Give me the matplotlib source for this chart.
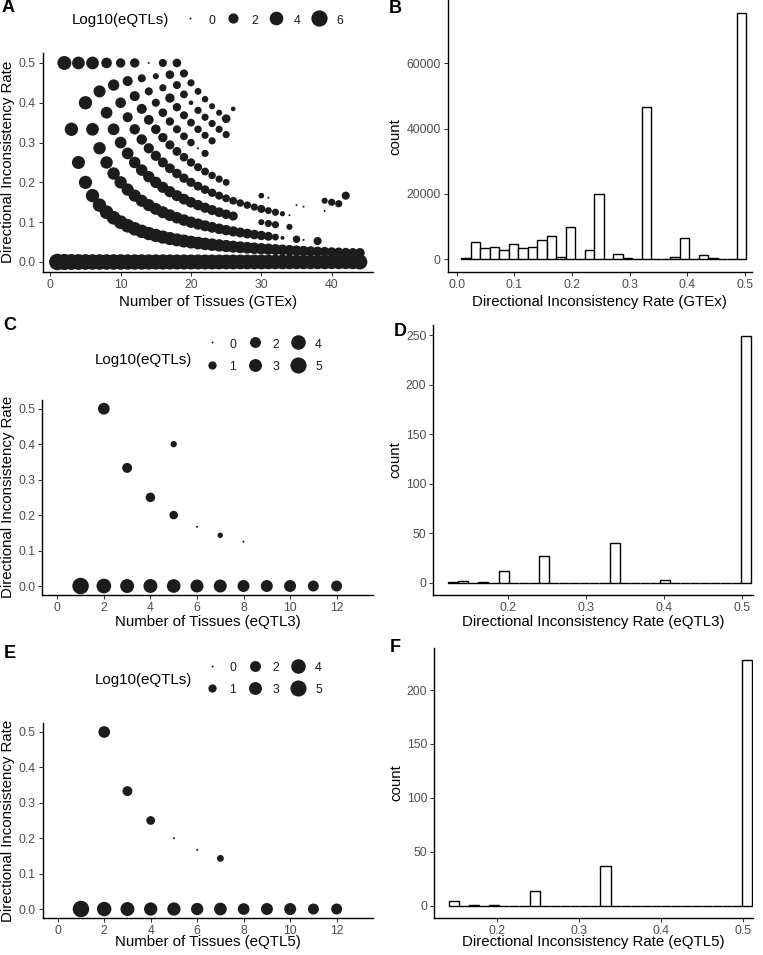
import numpy as np
import matplotlib
matplotlib.use("Agg")
import matplotlib.pyplot as plt
from matplotlib.lines import Line2D

plt.rcParams['font.family'] = ['Liberation Sans', 'DejaVu Sans']

W, H, DPI = 763, 955, 100
DOT = '#1c1c1c'

# ---------------- data ----------------
# Panel A (GTEx): log10(number of eQTLs) for n tissues with k inconsistent tissues
# row k lists values for n = 2k, 2k+1, ... (row 0 starts at n = 1); None = no point
gtex_k0 = [6.2, 5.9, 5.7, 5.6, 5.5, 5.4, 5.4, 5.4, 5.4, 5.4, 5.3, 5.3, 5.3, 5.2, 5.2,
           5.2, 5.1, 5.1, 5.1, 5.0, 5.0, 5.0, 4.9, 4.9, 4.9, 4.9, 4.8, 4.8, 4.8, 4.8,
           4.7, 4.7, 4.7, 4.7, 4.6, 4.6, 4.6, 4.6, 4.6, 4.5, 4.5, 4.5, 4.6, 5.0]
gtex_k1 = [4.2, 3.8, 3.6, 3.7, 3.8, 3.9, 4.0, 4.0, 4.0, 4.0, 3.9, 3.9, 3.8, 3.8, 3.7,
           3.7, 3.6, 3.6, 3.5, 3.4, 3.3, 3.3, 3.2, 3.1, 3.0, 2.9, 2.8, 2.7, 2.6, 2.5,
           2.4, 2.3, 2.2, 2.1, 2.0, 1.9, 1.8, 1.8, 1.7, 1.7, 1.6, 1.6, 1.8]
gtex_k2 = [3.4, 3.8, 3.4, 3.2, 3.2, 3.2, 3.2, 3.1, 3.1, 3.0, 3.0, 2.9, 2.9, 2.8, 2.7,
           2.7, 2.6, 2.5, 2.4, 2.3, 2.2, 2.1, 2.0, 1.9, 1.8, 1.7, 1.6, 1.4, 0.7, 0.1,
           None, 0.9, 0.0, None, 1.1]
gtex_k3 = [3.4, 3.0, 2.8, 2.8, 2.8, 2.8, 2.7, 2.7, 2.6, 2.6, 2.5, 2.5, 2.4, 2.3, 2.2,
           2.1, 2.0, 1.9, 1.8, 1.7, 1.5, None, None, None, 0.5, 0.8, 0.8, None, 0.5]
gtex_k4 = [2.2, 2.6, 2.2, 1.9, 2.1, 2.1, 2.0, 2.0, 1.9, 1.8, 1.7, 1.6, 1.5, 1.4, 1.3,
           1.2, 1.1, 1.0, 1.0, 0.9, 0.9, 0.8, 1.1, 0.7, 0.8, 0.3, 0.0]
gtex_k5 = [1.6, 1.9, 1.9, 1.9, 1.8, 1.7, 1.6, 1.5, 1.4, 1.3, 1.2, 1.1, 1.0, 0.9, 0.8,
           0.7, None, None, None, None, 0.4, 0.0, None, None, None, 0.0, 0.0, None,
           None, 0.0]
gtex_k6 = [1.6, 1.1, 1.1, 1.1, 1.3, 1.2, 1.1, 1.0, 0.9, 0.0, 0.8] + [None] * 16 + [0.5, 0.8, 0.8]
gtex_k7 = [0.0, 0.5, 0.8, 1.6, 1.2, 1.1, 1.0, 0.9, 0.8, 0.8] + [None] * 18 + [1.1]
gtex_k8 = [1.1, 1.3, 1.1, 1.0, 0.2, 0.8, 0.8, 0.8, 0.8, 0.8]
gtex_k9 = [1.3, 1.1, 0.8, 0.7, 0.6, 0.5, 0.5, 1.3]
gtex_k10 = [None, None, None, None, None, None, 0.2]
gtex_rows = [gtex_k0, gtex_k1, gtex_k2, gtex_k3, gtex_k4, gtex_k5,
             gtex_k6, gtex_k7, gtex_k8, gtex_k9, gtex_k10]

# Panel B: histogram counts (30 bins) of the GTEx inconsistency rate
gtex_rate_range = (1 / 44, 0.5)
gtex_counts = [300, 5200, 3400, 3800, 3000, 4600, 3400, 3900, 6000, 7250,
               700, 9800, 150, 3000, 20000, 200, 1650, 500, 100, 46500,
               50, 200, 800, 6650, 200, 1250, 400, 100, 30, 75500]

# Panel C (eQTL3)
e3_tissues = [1, 2, 3, 4, 5, 6, 7, 8, 9, 10, 11, 12, 2, 3, 4, 5, 5, 6, 7, 8]
e3_rate = [0, 0, 0, 0, 0, 0, 0, 0, 0, 0, 0, 0,
           0.5, 0.333, 0.25, 0.2, 0.4, 0.167, 0.143, 0.125]
e3_log10 = [5.3, 4.07, 3.6, 3.6, 3.45, 3.05, 3.05, 2.52, 2.52, 2.52, 2.04, 2.04,
            2.40, 1.60, 1.43, 1.08, 0.48, 0.0, 0.30, 0.0]

# Panel D: histogram counts (30 bins) of eQTL3 rate
e3_rate_range = (1 / 8, 0.5)
e3_counts = [1, 2, 0, 1, 0, 12, 0, 0, 0, 27, 0, 0, 0, 0, 0, 0, 40, 0, 0, 0,
             0, 3, 0, 0, 0, 0, 0, 0, 0, 249]

# Panel E (eQTL5)
e5_tissues = [1, 2, 3, 4, 5, 6, 7, 8, 9, 10, 11, 12, 2, 3, 4, 5, 6, 7]
e5_rate = [0, 0, 0, 0, 0, 0, 0, 0, 0, 0, 0, 0,
           0.5, 0.333, 0.25, 0.2, 0.167, 0.143]
e5_log10 = [5.3, 3.9, 3.6, 3.22, 3.22, 2.68, 2.89, 2.37, 2.52, 2.52, 2.04, 2.04,
            2.36, 1.57, 1.15, 0.0, 0.0, 0.6]

# Panel F: histogram counts (30 bins) of eQTL5 rate
e5_rate_range = (1 / 7, 0.5)
e5_counts = [4, 0, 1, 0, 1, 0, 0, 0, 14, 0, 0, 0, 0, 0, 0, 37, 0, 0, 0, 0,
             0, 0, 0, 0, 0, 0, 0, 0, 0, 228]

legend_a = [0, 2, 4, 6]
legend_ce = [0, 1, 2, 3, 4, 5]


# ---------------- helpers ----------------
def diam_pt(v, vmax):
    # ggplot-like area scale: diameter grows with sqrt of value
    d_px = 2.0 + 14.5 * np.sqrt(np.asarray(v, float) / vmax)
    return d_px * 72 / DPI


def add_axes_px(left, top, right, bottom):
    return fig.add_axes([left / W, 1 - bottom / H, (right - left) / W, (bottom - top) / H])


def style(ax, xlabel, ylabel, xlab_y, ylab_x, top, bottom, left):
    for s in ['top', 'right']:
        ax.spines[s].set_visible(False)
    for s in ['left', 'bottom']:
        ax.spines[s].set_linewidth(1.0)
    ax.tick_params(direction='out', length=2.75, width=0.75, color='#333333',
                   labelcolor='#4D4D4D', labelsize=8.8, pad=2.2)
    ax.set_xlabel(xlabel, fontsize=10.8, va='center')
    ax.set_ylabel(ylabel, fontsize=10.8, va='center')
    hgt = bottom - top
    ax.xaxis.set_label_coords(0.5, -(xlab_y - bottom) / hgt)
    wid = ax.get_position().width * W
    ax.yaxis.set_label_coords((ylab_x - left) / wid, 0.5)


def hist_bars(ax, counts, rate_range):
    lo, hi = rate_range
    width = (hi - lo) / 29
    origin = width / 2 + np.floor((lo - width / 2) / width) * width
    centers = origin + width / 2 + width * np.arange(len(counts))
    ax.bar(centers, counts, width=width, color='white', edgecolor='black',
           linewidth=1.0, zorder=2)


def size_legend(ax, breaks, vmax, ncol, center):
    handles = [Line2D([], [], marker='o', ls='', color=DOT, markeredgewidth=0,
                      markersize=diam_pt(b, vmax)) for b in breaks]
    ax.legend(handles, [str(b) for b in breaks], ncol=ncol, loc='center',
              bbox_to_anchor=(center[0] / W, 1 - center[1] / H),
              bbox_transform=fig.transFigure, frameon=False, fontsize=8.8,
              handlelength=1.6, handleheight=1.2, handletextpad=0.65,
              columnspacing=0.7, labelspacing=0.72, borderpad=0,
              labelcolor='#1a1a1a')


fig = plt.figure(figsize=(W / DPI, H / DPI), dpi=DPI)

# ---------------- panel A ----------------
axA = add_axes_px(42.7, 53, 372.7, 271.7)
a_n, a_rate, a_val = [], [], []
for k, row in enumerate(gtex_rows):
    n0 = 1 if k == 0 else 2 * k
    for i, v in enumerate(row):
        if v is None:
            continue
        n = n0 + i
        a_n.append(n)
        a_rate.append(k / n)
        a_val.append(v)
a_val = np.array(a_val)
vmax_a = a_val.max()
order = np.argsort(a_n, kind='stable')
axA.scatter(np.array(a_n)[order], np.array(a_rate)[order],
            s=diam_pt(a_val[order], vmax_a) ** 2, color=DOT, linewidths=0, zorder=3)
axA.set_xlim(-1.08, 45.83)
axA.set_ylim(-0.0244, 0.525)
axA.set_xticks([0, 10, 20, 30, 40])
axA.set_yticks([0, 0.1, 0.2, 0.3, 0.4, 0.5])
axA.set_yticklabels(['0.0', '0.1', '0.2', '0.3', '0.4', '0.5'])
style(axA, 'Number of Tissues (GTEx)', 'Directional Inconsistency Rate', 302, 8.3, 53, 271.7, 42.7)
size_legend(axA, legend_a, vmax_a, 4, (262, 20))
fig.text(71.7 / W, 1 - 20 / H, 'Log10(eQTLs)', fontsize=10.8, va='center', ha='left')

# ---------------- panel B ----------------
axB = add_axes_px(447.7, 0.5, 751.7, 271.7)
hist_bars(axB, gtex_counts, gtex_rate_range)
axB.set_xlim(-0.0156, 0.5113)
axB.set_ylim(-3798, 79265)
axB.set_xticks([0, 0.1, 0.2, 0.3, 0.4, 0.5])
axB.set_xticklabels(['0.0', '0.1', '0.2', '0.3', '0.4', '0.5'])
axB.set_yticks([0, 20000, 40000, 60000])
axB.set_yticklabels(['0', '20000', '40000', '60000'])
style(axB, 'Directional Inconsistency Rate (GTEx)', 'count', 302, 395, 0.5, 271.7, 447.7)

# ---------------- panel C ----------------
axC = add_axes_px(42.3, 400, 372.7, 594.7)
vmax_c = max(e3_log10)
axC.scatter(e3_tissues, e3_rate, s=diam_pt(e3_log10, vmax_c) ** 2, color=DOT,
            linewidths=0, zorder=3)
axC.set_xlim(-0.645, 13.55)
axC.set_ylim(-0.0245, 0.5245)
axC.set_xticks([0, 2, 4, 6, 8, 10, 12])
axC.set_yticks([0, 0.1, 0.2, 0.3, 0.4, 0.5])
axC.set_yticklabels(['0.0', '0.1', '0.2', '0.3', '0.4', '0.5'])
style(axC, 'Number of Tissues (eQTL3)', 'Directional Inconsistency Rate', 622, 8.3, 400, 594.7, 42.3)
size_legend(axC, legend_ce, vmax_c, 3, (262, 355))
fig.text(94.3 / W, 1 - 360 / H, 'Log10(eQTLs)', fontsize=10.8, va='center', ha='left')

# ---------------- panel D ----------------
axD = add_axes_px(433.3, 325, 752.7, 595)
hist_bars(axD, e3_counts, e3_rate_range)
axD.set_xlim(0.1038, 0.5133)
axD.set_ylim(-12.4, 260.5)
axD.set_xticks([0.2, 0.3, 0.4, 0.5])
axD.set_yticks([0, 50, 100, 150, 200, 250])
style(axD, 'Directional Inconsistency Rate (eQTL3)', 'count', 622, 395, 325, 595, 433.3)

# ---------------- panel E ----------------
axE = add_axes_px(42.7, 723.3, 372.7, 917.7)
vmax_e = max(e5_log10)
axE.scatter(e5_tissues, e5_rate, s=diam_pt(e5_log10, vmax_e) ** 2, color=DOT,
            linewidths=0, zorder=3)
axE.set_xlim(-0.645, 13.55)
axE.set_ylim(-0.0245, 0.5245)
axE.set_xticks([0, 2, 4, 6, 8, 10, 12])
axE.set_yticks([0, 0.1, 0.2, 0.3, 0.4, 0.5])
axE.set_yticklabels(['0.0', '0.1', '0.2', '0.3', '0.4', '0.5'])
style(axE, 'Number of Tissues (eQTL5)', 'Directional Inconsistency Rate', 942, 8.3, 723.3, 917.7, 42.7)
size_legend(axE, legend_ce, vmax_e, 3, (262, 678.3))
fig.text(94.3 / W, 1 - 680 / H, 'Log10(eQTLs)', fontsize=10.8, va='center', ha='left')

# ---------------- panel F ----------------
axF = add_axes_px(434, 648.3, 752.7, 917.7)
hist_bars(axF, e5_counts, e5_rate_range)
axF.set_xlim(0.1238, 0.5116)
axF.set_ylim(-11.1, 238.7)
axF.set_xticks([0.2, 0.3, 0.4, 0.5])
axF.set_yticks([0, 50, 100, 150, 200])
style(axF, 'Directional Inconsistency Rate (eQTL5)', 'count', 942, 396, 648.3, 917.7, 434)

# panel letters
for letter, (x, y) in zip('ABCDEF', [(8.3, 7.5), (395, 8.5), (10, 325), (400, 331), (10, 653), (395, 647)]):
    fig.text(x / W, 1 - y / H, letter, fontsize=13, fontweight='bold', ha='center', va='center')

fig.savefig('out.png', dpi=DPI)
